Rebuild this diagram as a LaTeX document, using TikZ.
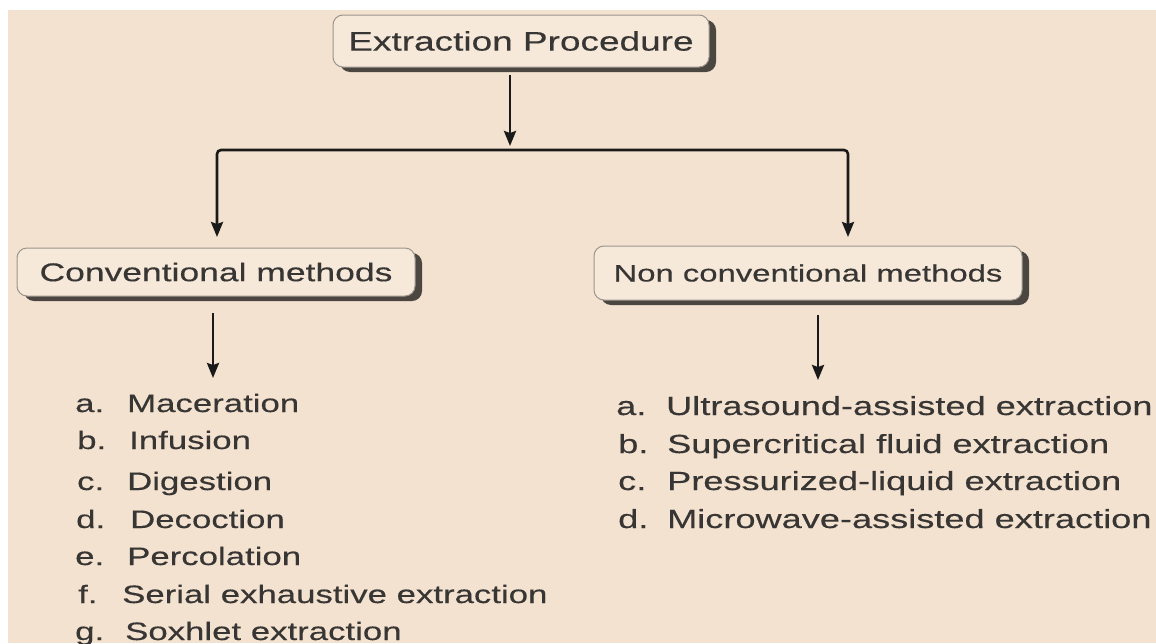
\documentclass[tikz,border=0pt]{standalone}
\usepackage{fontspec}
\setmainfont{Liberation Sans}[FakeStretch=1.38,FakeBold=0.35]
\usetikzlibrary{arrows.meta,shadows}
\definecolor{bgc}{HTML}{F4E2D0}
\definecolor{boxc}{HTML}{F7E9DA}
\definecolor{borderc}{HTML}{9A948C}
\definecolor{shadowc}{HTML}{4B4640}
\definecolor{txtc}{HTML}{383634}
\definecolor{linec}{HTML}{1A1A1A}
\tikzset{
  procbox/.style={draw=borderc, line width=1pt, fill=boxc, rounded corners=10pt,
    inner sep=0pt, text=txtc,
    drop shadow={shadow xshift=7pt, shadow yshift=-5pt, fill=shadowc, opacity=1}},
  arr/.style={draw=linec, line width=2.6pt, -{Stealth[length=15pt,width=12pt,inset=2pt]}},
  arrboth/.style={draw=linec, line width=2.6pt, rounded corners=4pt,
    {Stealth[length=15pt,width=12pt,inset=2pt]}-{Stealth[length=15pt,width=12pt,inset=2pt]}},
  itemL/.style={anchor=base west, inner sep=0pt, text=txtc, font=\fontsize{25.2}{30}\selectfont},
  itemR/.style={anchor=base west, inner sep=0pt, text=txtc, font=\fontsize{26.2}{31}\selectfont}
}
\begin{document}
\begin{tikzpicture}[x=1pt,y=-1pt]
\useasboundingbox (0,0) rectangle (1156,643);
\fill[white] (0,0) rectangle (1156,643);
\fill[bgc] (8,10) rectangle (1156,643);

% boxes
\node[procbox, minimum width=376pt, minimum height=52pt, font=\fontsize{26.8}{32}\selectfont]
  (top) at (521,41) {Extraction Procedure};
\node[procbox, minimum width=398pt, minimum height=48pt, font=\fontsize{25.7}{31}\selectfont]
  (conv) at (216,272) {Conventional methods};
\node[procbox, minimum width=428pt, minimum height=54pt, font=\fontsize{23.8}{29}\selectfont]
  (nonconv) at (808,273) {Non conventional methods};

% connector points
\coordinate (jt) at (510,75);
\coordinate (jb) at (510,146);
\coordinate (lh) at (217,150);
\coordinate (rh) at (848,150);
\coordinate (le) at (217,237);
\coordinate (re) at (848,237);
\coordinate (cs) at (213,313);
\coordinate (ce) at (213,378);
\coordinate (ns) at (818,315);
\coordinate (ne) at (818,380);

\draw[arr] (jt) -- (jb);
\draw[arrboth] (le) -- (lh) -- (rh) -- (re);
\draw[arr] (cs) -- (ce);
\draw[arr] (ns) -- (ne);

% left list
\node[itemL] (la) at (75,412) {\makebox[52pt][l]{a.}Maceration};
\node[itemL] (lb) at (77,449) {\makebox[52pt][l]{b.}Infusion};
\node[itemL] (lc) at (77,490) {\makebox[50pt][l]{c.}Digestion};
\node[itemL] (ld) at (76,528) {\makebox[54pt][l]{d.}Decoction};
\node[itemL] (le2) at (75,565) {\makebox[52pt][l]{e.}Percolation};
\node[itemL] (lf) at (78,603) {\makebox[44pt][l]{f.}Serial exhaustive extraction};
\node[itemL] (lg) at (75,640) {\makebox[50pt][l]{g.}Soxhlet extraction};

% right list
\node[itemR] (ra) at (616,415) {\makebox[50pt][l]{a.}Ultrasound-assisted extraction};
\node[itemR] (rb) at (618,453) {\makebox[49pt][l]{b.}Supercritical fluid extraction};
\node[itemR] (rc) at (618,490) {\makebox[49pt][l]{c.}Pressurized-liquid extraction};
\node[itemR] (rd) at (618,528) {\makebox[49pt][l]{d.}Microwave-assisted extraction};
\end{tikzpicture}
\end{document}
